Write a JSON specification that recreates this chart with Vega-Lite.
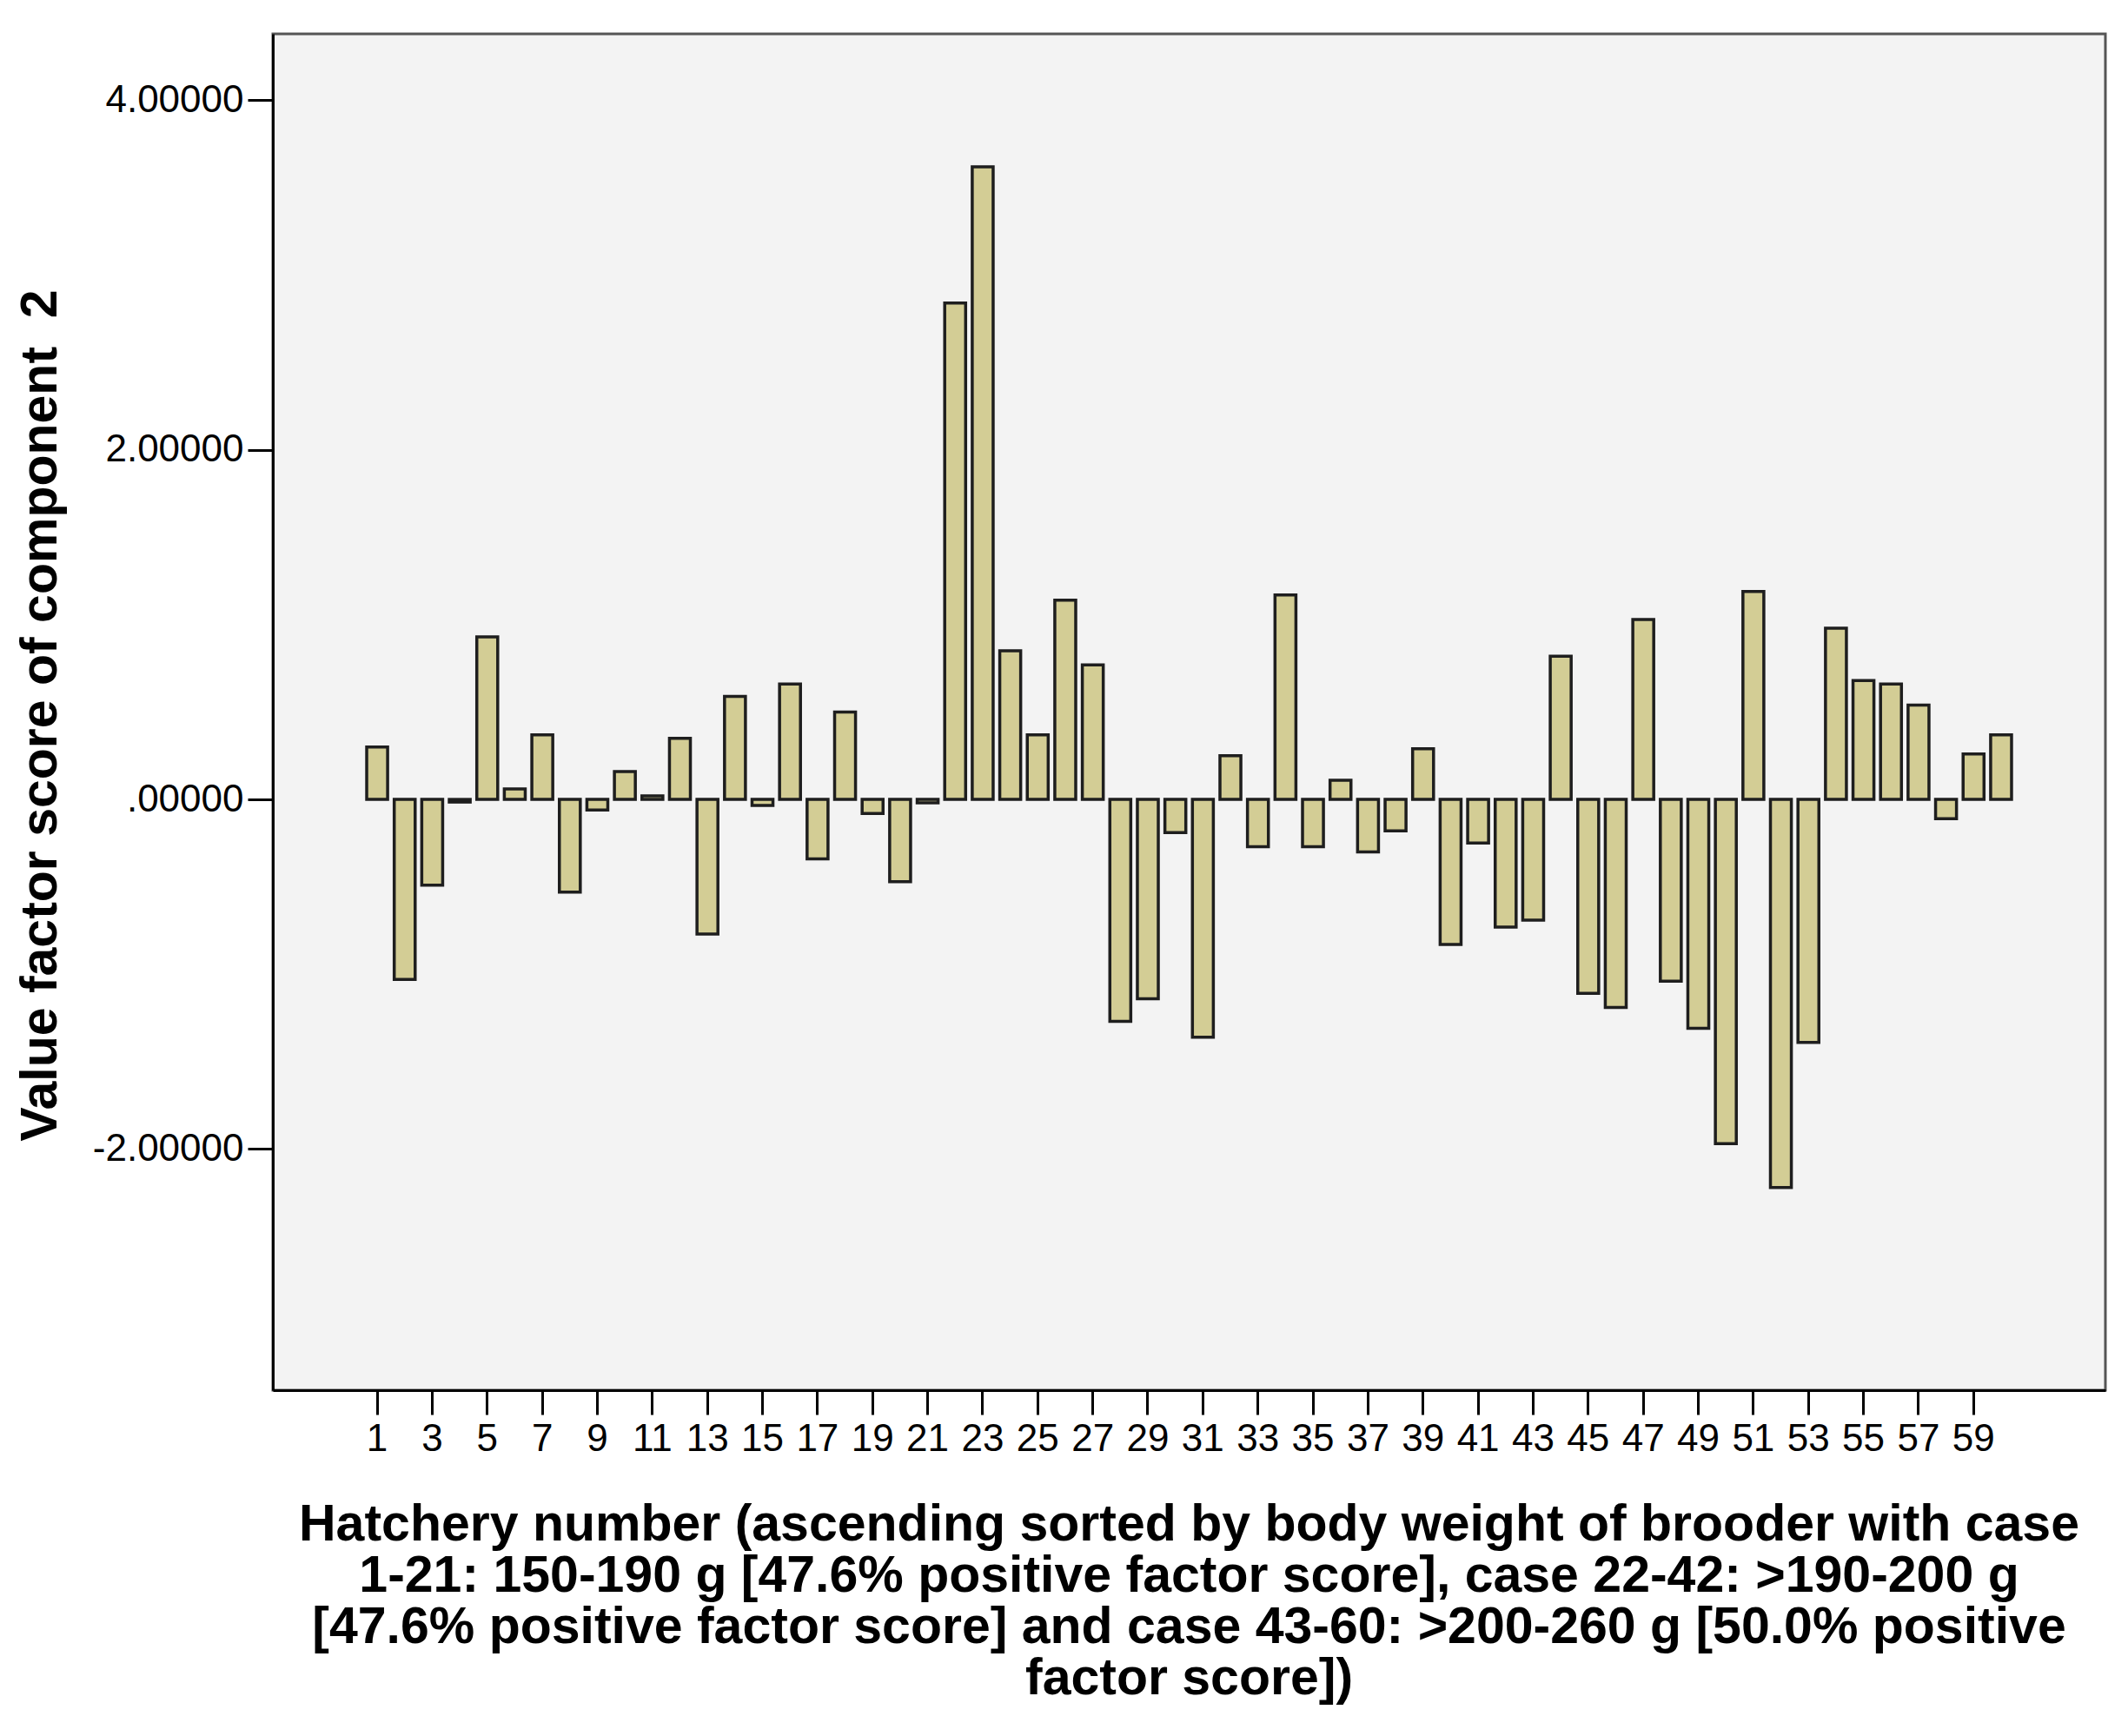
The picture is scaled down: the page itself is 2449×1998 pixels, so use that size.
{
  "$schema": "https://vega.github.io/schema/vega-lite/v6.json",
  "autosize": {"type": "none"},
  "width": 2109,
  "height": 1561,
  "padding": {"left": 314, "top": 39, "right": 26, "bottom": 398},
  "background": "#FFFFFF",
  "config": {
    "view": {"fill": "#F3F3F3", "stroke": "#555555", "strokeWidth": 3},
    "font": "Liberation Sans"
  },
  "data": {
    "values": [
      {"case": 1, "score": 0.30}, {"case": 2, "score": -1.03}, {"case": 3, "score": -0.49},
      {"case": 4, "score": -0.015}, {"case": 5, "score": 0.93}, {"case": 6, "score": 0.06},
      {"case": 7, "score": 0.37}, {"case": 8, "score": -0.53}, {"case": 9, "score": -0.06},
      {"case": 10, "score": 0.16}, {"case": 11, "score": 0.02}, {"case": 12, "score": 0.35},
      {"case": 13, "score": -0.77}, {"case": 14, "score": 0.59}, {"case": 15, "score": -0.035},
      {"case": 16, "score": 0.66}, {"case": 17, "score": -0.34}, {"case": 18, "score": 0.50},
      {"case": 19, "score": -0.08}, {"case": 20, "score": -0.47}, {"case": 21, "score": -0.02},
      {"case": 22, "score": 2.84}, {"case": 23, "score": 3.62}, {"case": 24, "score": 0.85},
      {"case": 25, "score": 0.37}, {"case": 26, "score": 1.14}, {"case": 27, "score": 0.77},
      {"case": 28, "score": -1.27}, {"case": 29, "score": -1.14}, {"case": 30, "score": -0.19},
      {"case": 31, "score": -1.36}, {"case": 32, "score": 0.25}, {"case": 33, "score": -0.27},
      {"case": 34, "score": 1.17}, {"case": 35, "score": -0.27}, {"case": 36, "score": 0.11},
      {"case": 37, "score": -0.30}, {"case": 38, "score": -0.18}, {"case": 39, "score": 0.29},
      {"case": 40, "score": -0.83}, {"case": 41, "score": -0.25}, {"case": 42, "score": -0.73},
      {"case": 43, "score": -0.69}, {"case": 44, "score": 0.82}, {"case": 45, "score": -1.11},
      {"case": 46, "score": -1.19}, {"case": 47, "score": 1.03}, {"case": 48, "score": -1.04},
      {"case": 49, "score": -1.31}, {"case": 50, "score": -1.97}, {"case": 51, "score": 1.19},
      {"case": 52, "score": -2.22}, {"case": 53, "score": -1.39}, {"case": 54, "score": 0.98},
      {"case": 55, "score": 0.68}, {"case": 56, "score": 0.66}, {"case": 57, "score": 0.54},
      {"case": 58, "score": -0.11}, {"case": 59, "score": 0.26}, {"case": 60, "score": 0.37}
    ]
  },
  "mark": {"type": "bar", "fill": "#D3CD95", "stroke": "#1E1E1E", "strokeWidth": 3.5},
  "encoding": {
    "x": {
      "field": "case",
      "type": "ordinal",
      "sort": null,
      "scale": {
        "domain": [-2,-1,0,1,2,3,4,5,6,7,8,9,10,11,12,13,14,15,16,17,18,19,20,21,22,23,24,25,26,27,28,29,30,31,32,33,34,35,36,37,38,39,40,41,42,43,44,45,46,47,48,49,50,51,52,53,54,55,56,57,58,59,60,61,62,63],
        "paddingInner": 0.24,
        "paddingOuter": 0.41
      },
      "axis": {
        "values": [1,3,5,7,9,11,13,15,17,19,21,23,25,27,29,31,33,35,37,39,41,43,45,47,49,51,53,55,57,59],
        "labelAngle": 0,
        "labelFontSize": 44,
        "labelColor": "#000000",
        "labelPadding": 6,
        "tickSize": 28,
        "tickWidth": 3,
        "tickColor": "#000000",
        "domainColor": "#000000",
        "domainWidth": 3,
        "grid": false,
        "title": ["Hatchery number (ascending sorted by body weight of brooder with case", "1-21: 150-190 g [47.6% positive factor score], case 22-42: >190-200 g", "[47.6% positive factor score] and case 43-60: >200-260 g [50.0% positive", "factor score])"],
        "titleFontSize": 59,
        "titleFontWeight": "bold",
        "titleColor": "#000000",
        "titleLineHeight": 59,
        "titleBaseline": "alphabetic",
        "titleAlign": "center",
        "titleX": 1054,
        "titleY": 172
      }
    },
    "y": {
      "field": "score",
      "type": "quantitative",
      "scale": {"domain": [-3.38, 4.38], "nice": false, "zero": false},
      "axis": {
        "values": [-2, 0, 2, 4],
        "labelExpr": "datum.value == 0 ? '.00000' : (datum.value < 0 ? '-' : '') + format(abs(datum.value), '.5f')",
        "labelFontSize": 44,
        "labelColor": "#000000",
        "labelPadding": 5,
        "tickSize": 29,
        "tickWidth": 3,
        "tickColor": "#000000",
        "domainColor": "#000000",
        "domainWidth": 3,
        "grid": false,
        "title": "Value factor score of component \u00a02",
        "titleFontSize": 59,
        "titleFontWeight": "bold",
        "titleColor": "#000000",
        "titleAngle": 270,
        "titleBaseline": "bottom",
        "titleAlign": "center",
        "titleX": -238,
        "titleY": 784
      }
    }
  }
}
